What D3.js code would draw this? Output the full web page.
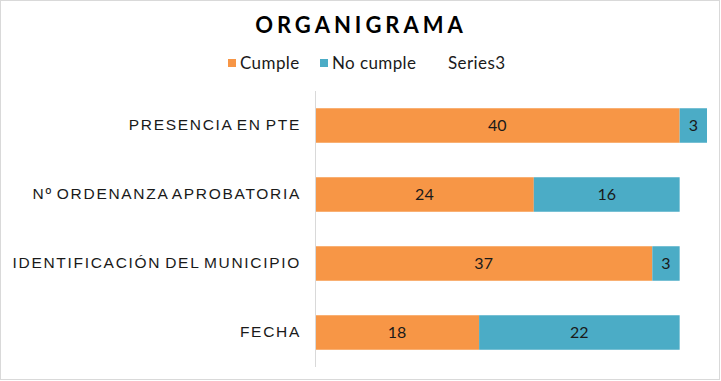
<!DOCTYPE html>
<html>
<head>
<meta charset="utf-8">
<script src="https://cdn.jsdelivr.net/npm/d3@7"></script>
<style>
  body { margin: 0; background: #fff; }
  svg { display: block; font-family: "Lato", "DejaVu Sans", sans-serif; }
</style>
</head>
<body>
<div id="chart"></div>
<script>
// chart values
var categories = ["PRESENCIA EN PTE", "Nº ORDENANZA APROBATORIA", "IDENTIFICACIÓN DEL MUNICIPIO", "FECHA"];
var cumple = [40, 24, 37, 18];
var noCumple = [3, 16, 3, 22];
var seriesNames = ["Cumple", "No cumple", "Series3"];
var seriesColors = ["#F79646", "#4BACC6", null];

var width = 721, height = 381;
var margin = {top: 91, right: 14, bottom: 14, left: 315};

var svg = d3.select("#chart").append("svg")
            .attr("width", width)
            .attr("height", height);

// outer border
svg.append("rect")
   .attr("x", 0.5).attr("y", 0.5)
   .attr("width", width - 2).attr("height", height - 2)
   .attr("fill", "#fff")
   .attr("stroke", "#d9d9d9");

var x = d3.scaleLinear()
          .domain([0, 43])
          .range([margin.left, margin.left + 392]);

var y = d3.scaleBand()
          .domain(categories)
          .range([margin.top, 367])
          .paddingInner(0.5)
          .paddingOuter(0.25);

var rows = categories.map(function(c, i){
	return {cat: c, vals: [cumple[i], noCumple[i]]};
});

var g = svg.append("g");

rows.forEach(function(r){
	var start = 0;
	r.vals.forEach(function(v, j){
		g.append("rect")
		 .attr("x", x(start))
		 .attr("y", y(r.cat))
		 .attr("width", x(start + v) - x(start))
		 .attr("height", y.bandwidth())
		 .attr("fill", seriesColors[j]);
		g.append("text")
		 .attr("x", (x(start) + x(start + v)) / 2)
		 .attr("y", y(r.cat) + y.bandwidth() / 2)
		 .attr("dy", "0.36em")
		 .attr("text-anchor", "middle")
		 .attr("font-size", 16)
		 .attr("fill", "#1a1a1a")
		 .text(v);
		start += v;
	});
});

// category axis
var yAxis = svg.append("g")
               .attr("transform", "translate(" + margin.left + ",0)")
               .call(d3.axisLeft(y).tickSize(0).tickPadding(14));
yAxis.select(".domain").attr("stroke", "#d9d9d9").attr("d", "M0.5," + margin.top + "V367");
yAxis.selectAll("text")
     .attr("font-size", 15.5)
     .attr("letter-spacing", "1.7px")
     .attr("word-spacing", "-2px")
     .attr("fill", "#1a1a1a");

// title
svg.append("text")
   .attr("x", 361)
   .attr("y", 33)
   .attr("text-anchor", "middle")
   .attr("font-size", 22)
   .attr("font-weight", "bold")
   .attr("letter-spacing", "4px")
   .attr("fill", "#000")
   .text("ORGANIGRAMA");

// legend
var legendX = [228, 320, 448];
seriesNames.forEach(function(n, i){
	var lg = svg.append("g").attr("transform", "translate(" + legendX[i] + ",63)");
	if(seriesColors[i]){
		lg.append("rect")
		  .attr("x", 0).attr("y", -4)
		  .attr("width", 8).attr("height", 8)
		  .attr("fill", seriesColors[i]);
	}
	lg.append("text")
	  .attr("x", seriesColors[i] ? 12 : 0)
	  .attr("y", 0)
	  .attr("dy", "0.36em")
	  .attr("font-size", 17)
	  .attr("letter-spacing", "0.4px")
	  .attr("fill", "#1a1a1a")
	  .text(n);
});
</script>
</body>
</html>
